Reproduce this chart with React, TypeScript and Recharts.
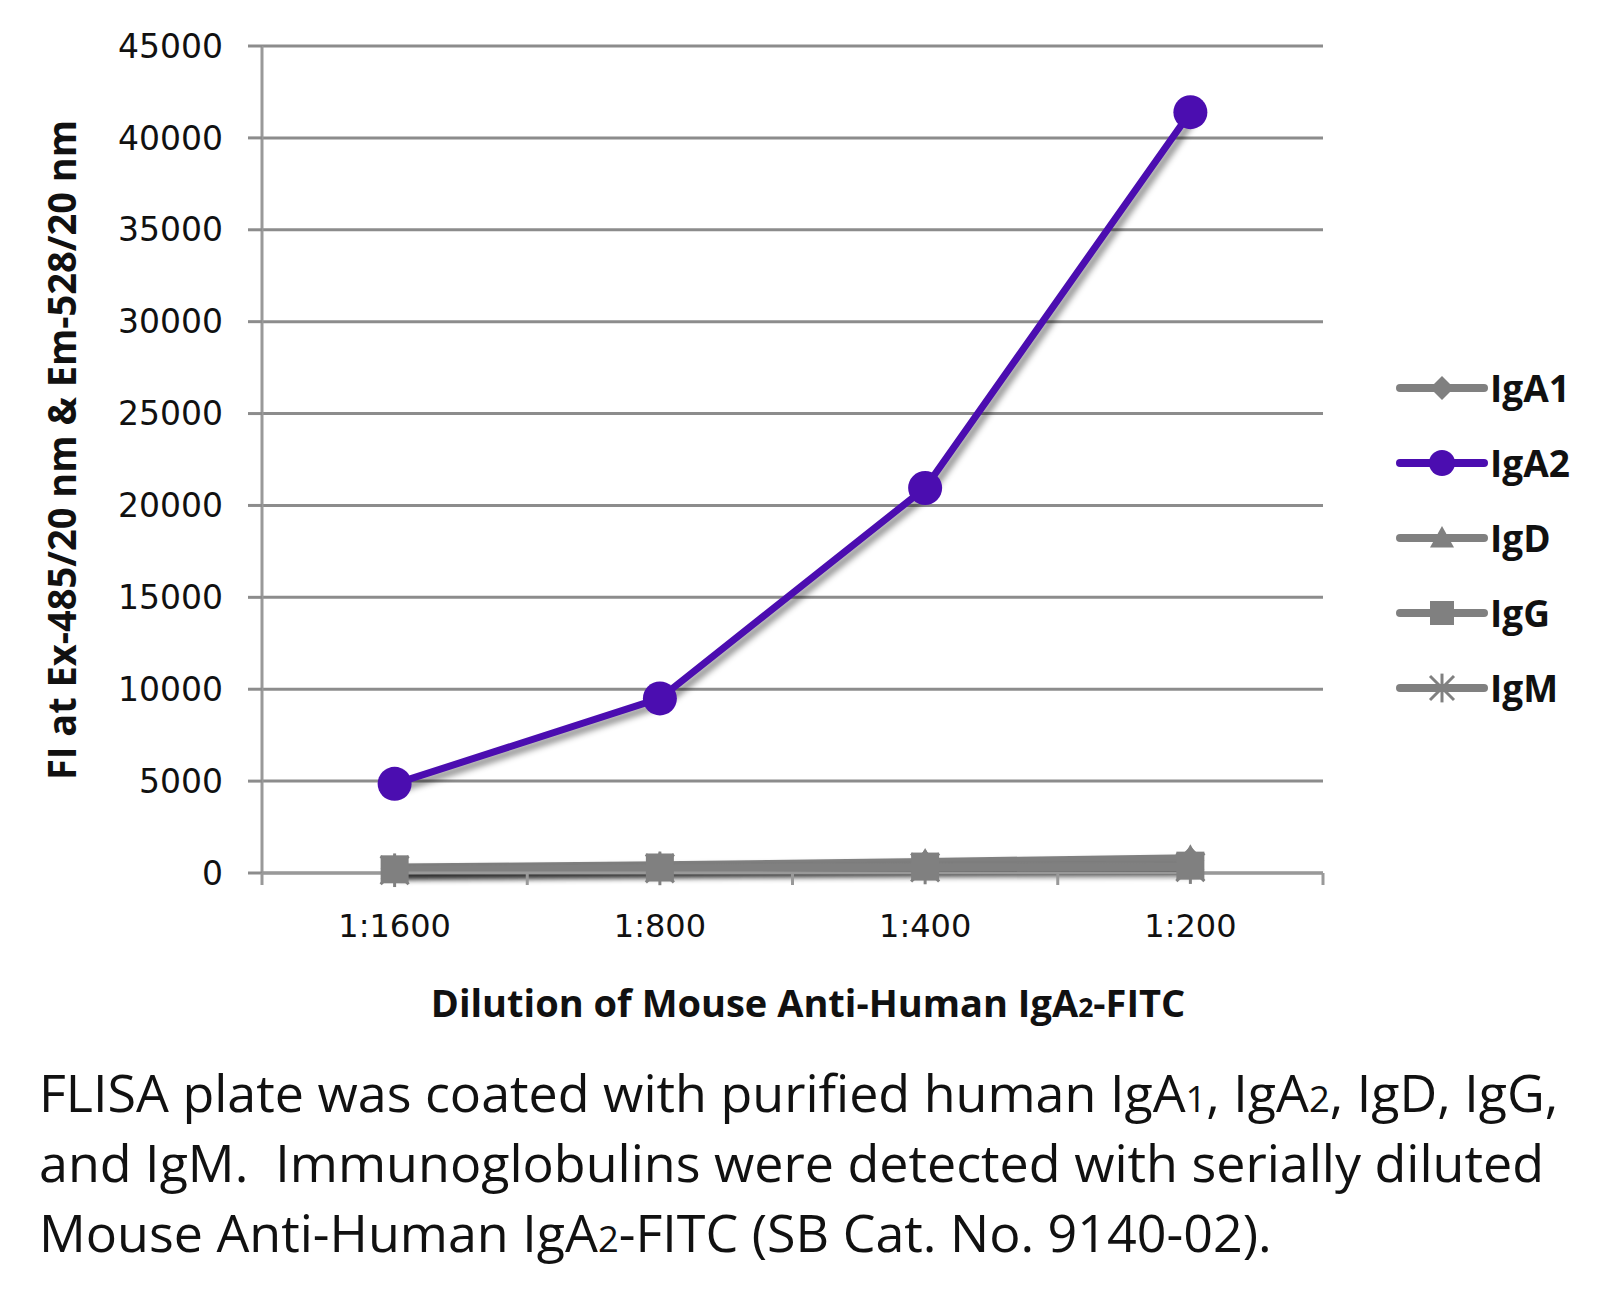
import React from 'react';
import { LineChart, Line, XAxis, YAxis, CartesianGrid } from 'recharts';

const dilutions = ['1:1600', '1:800', '1:400', '1:200'];
const yTicks = [0, 5000, 10000, 15000, 20000, 25000, 30000, 35000, 40000, 45000];

const igA1 = [250, 350, 500, 700];
const igA2 = [4850, 9500, 20950, 41400];
const igD = [300, 420, 600, 800];
const igG = [200, 300, 350, 400];
const igM = [150, 250, 300, 320];

const seriesNames = ['IgA1', 'IgA2', 'IgD', 'IgG', 'IgM'];
const seriesValues = [igA1, igA2, igD, igG, igM];
const seriesColors = ['#808080', '#4B0DB0', '#808080', '#808080', '#808080'];
const seriesShapes = ['diamond', 'circle', 'triangle', 'square', 'star'];

const data = dilutions.map((d, i) => {
  const row: Record<string, any> = { dilution: d };
  seriesNames.forEach((n, s) => (row[n] = seriesValues[s][i]));
  return row;
});

const PLOT_LEFT = 262;
const PLOT_RIGHT = 1323;
const BAND = (PLOT_RIGHT - PLOT_LEFT) / dilutions.length;

function Marker({ cx, cy, shape, color, size }: any) {
  const h = size / 2;
  if (shape === 'circle') return <circle cx={cx} cy={cy} r={h} fill={color} />;
  if (shape === 'diamond')
    return <polygon points={`${cx},${cy - h} ${cx + h},${cy} ${cx},${cy + h} ${cx - h},${cy}`} fill={color} />;
  if (shape === 'triangle')
    return <polygon points={`${cx},${cy - h} ${cx + h},${cy + h * 0.8} ${cx - h},${cy + h * 0.8}`} fill={color} />;
  if (shape === 'square') return <rect x={cx - h} y={cy - h} width={size} height={size} fill={color} />;
  return (
    <g stroke={color} strokeWidth={3}>
      <line x1={cx - h} y1={cy - h} x2={cx + h} y2={cy + h} />
      <line x1={cx - h} y1={cy + h} x2={cx + h} y2={cy - h} />
      <line x1={cx} y1={cy - h * 1.2} x2={cx} y2={cy + h * 1.2} />
    </g>
  );
}

function XTick({ x, y, payload, index }: any) {
  const left = x - BAND / 2;
  return (
    <g>
      <line x1={left} y1={y} x2={left} y2={y + 12} stroke="#999" strokeWidth={3} />
      {index === dilutions.length - 1 && (
        <line x1={x + BAND / 2} y1={y} x2={x + BAND / 2} y2={y + 12} stroke="#999" strokeWidth={3} />
      )}
      <text x={x} y={y + 64} textAnchor="middle" fontSize={32} fill="#111" fontFamily="DejaVu Sans">
        {payload.value}
      </text>
    </g>
  );
}

const sub = { fontSize: '0.7em', lineHeight: 0 };

export default function App() {
  return (
    <div style={{ position: 'relative', width: 1605, height: 1306, background: '#fff', fontFamily: 'Open Sans' }}>
      <style>{'body{margin:0} .shadowed{filter:drop-shadow(4px 5px 3px rgba(0,0,0,0.45))}'}</style>
      <LineChart
        width={1400}
        height={960}
        data={data}
        margin={{ top: 46, right: 1400 - PLOT_RIGHT, left: 0, bottom: 27 }}
      >
        <CartesianGrid vertical={false} stroke="#8c8c8c" strokeWidth={3} />
        <XAxis
          dataKey="dilution"
          scale="band"
          height={60}
          tickLine={false}
          tickSize={0}
          tickMargin={0}
          axisLine={{ stroke: '#999', strokeWidth: 3 }}
          tick={<XTick />}
          interval={0}
        />
        <YAxis
          width={PLOT_LEFT}
          domain={[0, 45000]}
          ticks={yTicks}
          interval={0}
          tickSize={14}
          tickMargin={25}
          tickLine={{ stroke: '#8c8c8c', strokeWidth: 3 }}
          axisLine={{ stroke: '#999', strokeWidth: 3 }}
          tick={{ fontSize: 33, fill: '#111', fontFamily: 'DejaVu Sans' }}
        />
        {seriesNames.map((name, s) => (
          <Line
            key={name}
            dataKey={name}
            className="shadowed"
            stroke={seriesColors[s]}
            strokeWidth={s === 1 ? 7 : 8}
            isAnimationActive={false}
            dot={(p: any) => (
              <Marker
                key={`${name}-${p.index}`}
                cx={p.cx}
                cy={p.cy}
                shape={seriesShapes[s]}
                color={seriesColors[s]}
                size={s === 1 ? 34 : 28}
              />
            )}
          />
        ))}
      </LineChart>

      <div
        style={{
          position: 'absolute',
          left: 61,
          top: 450,
          transform: 'translate(-50%, -50%) rotate(-90deg) scaleX(0.95)',
          whiteSpace: 'nowrap',
          fontWeight: 700,
          fontSize: 40,
          lineHeight: '44px',
          color: '#111',
        }}
      >
        FI at Ex-485/20 nm &amp; Em-528/20 nm
      </div>

      <div
        style={{
          position: 'absolute',
          left: 808,
          top: 1002,
          transform: 'translate(-50%, -50%)',
          whiteSpace: 'nowrap',
          fontWeight: 700,
          fontSize: 38,
          color: '#111',
        }}
      >
        Dilution of Mouse Anti-Human IgA<span style={sub}>2</span>-FITC
      </div>

      <div style={{ position: 'absolute', left: 1396, top: 350 }}>
        {seriesNames.map((name, s) => (
          <div key={name} style={{ display: 'flex', alignItems: 'center', height: 75 }}>
            <svg width={92} height={40}>
              <line x1={4} y1={20} x2={88} y2={20} stroke={seriesColors[s]} strokeWidth={8} strokeLinecap="round" />
              <Marker cx={46} cy={20} shape={seriesShapes[s]} color={seriesColors[s]} size={s === 1 ? 26 : 24} />
            </svg>
            <span style={{ fontWeight: 700, fontSize: 37, color: '#111', marginLeft: 2 }}>{name}</span>
          </div>
        ))}
      </div>

      <div
        style={{
          position: 'absolute',
          left: 39,
          top: 1057,
          fontSize: 52,
          lineHeight: '70px',
          color: '#111',
          whiteSpace: 'nowrap',
        }}
      >
        <div>
          FLISA plate was coated with purified human IgA<span style={sub}>1</span>, IgA<span style={sub}>2</span>, IgD,
          IgG,
        </div>
        <div>and IgM.&nbsp; Immunoglobulins were detected with serially diluted</div>
        <div>
          Mouse Anti-Human IgA<span style={sub}>2</span>-FITC (SB Cat. No. 9140-02).
        </div>
      </div>
    </div>
  );
}
